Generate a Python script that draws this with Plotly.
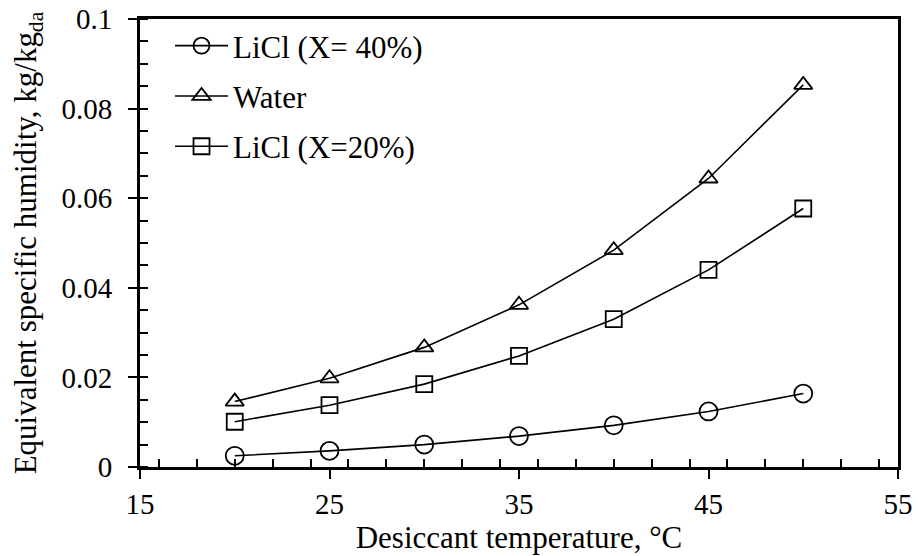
import plotly.graph_objects as go

temps = [20, 25, 30, 35, 40, 45, 50]
licl40 = [0.0025, 0.0036, 0.0050, 0.0069, 0.0093, 0.0124, 0.0164]
water = [0.0146, 0.0198, 0.0267, 0.0362, 0.0484, 0.0644, 0.0853]
licl20 = [0.0101, 0.0138, 0.0185, 0.0248, 0.0330, 0.0440, 0.0577]

names = ["LiCl (X= 40%)", "Water", "LiCl (X=20%)"]
series = [licl40, water, licl20]
symbols = ["circle-open", "triangle-up-open", "square-open"]
sizes = [18, 16, 16]

FONT = "Liberation Serif"
TICK_FS = 29
TITLE_FS = 31
LEG_FS = 31

fig = go.Figure()
for i, (nm, ys, sym, sz) in enumerate(zip(names, series, symbols, sizes)):
    fig.add_trace(go.Scatter(
        x=temps, y=ys, name=nm, mode="lines+markers",
        legendgroup=f"g{i}",
        line=dict(color="black", width=1.6),
        marker=dict(symbol=sym, size=sz, color="black",
                    line=dict(color="black", width=1.8)),
    ))

fig.update_layout(
    template="none",
    width=919, height=556,
    margin=dict(l=140, r=21, t=19, b=89),
    paper_bgcolor="white", plot_bgcolor="white",
    font=dict(family=FONT, size=TICK_FS, color="black"),
    showlegend=True,
    legend=dict(x=0.0396, y=1.0, xanchor="left", yanchor="top",
                bgcolor="rgba(0,0,0,0)", traceorder="grouped",
                tracegroupgap=7, font=dict(family=FONT, size=LEG_FS, color="black"),
                itemwidth=53),
)

fig.update_xaxes(
    range=[15, 55], dtick=10, tick0=15,
    showline=True, linecolor="black", linewidth=3, mirror=True,
    ticks="outside", ticklen=9, tickwidth=2, tickcolor="black",
    minor=dict(ticks="inside", dtick=2, ticklen=8, tickwidth=2, tickcolor="black"),
    showgrid=False, zeroline=False,
    tickfont=dict(family=FONT, size=TICK_FS, color="black"),
    title=dict(text="Desiccant temperature, °C", font=dict(family=FONT, size=TITLE_FS, color="black"), standoff=0),
)
fig.update_yaxes(
    range=[0, 0.1],
    tickvals=[0, 0.02, 0.04, 0.06, 0.08, 0.1],
    ticktext=["0", "0.02", "0.04", "0.06", "0.08", "0.1"],
    showline=True, linecolor="black", linewidth=3, mirror=True,
    ticks="outside", ticklen=9, tickwidth=2, tickcolor="black",
    minor=dict(ticks="inside", tickvals=[i * 0.005 for i in range(21)], ticklen=8, tickwidth=2, tickcolor="black"),
    showgrid=False, zeroline=False,
    tickfont=dict(family=FONT, size=TICK_FS, color="black"),
    ticklabelstandoff=10,
    title=dict(text="Equivalent specific humidity, kg/kg<sub>da</sub>",
               font=dict(family=FONT, size=TITLE_FS, color="black"), standoff=16),
)

fig.write_html("out.html")
